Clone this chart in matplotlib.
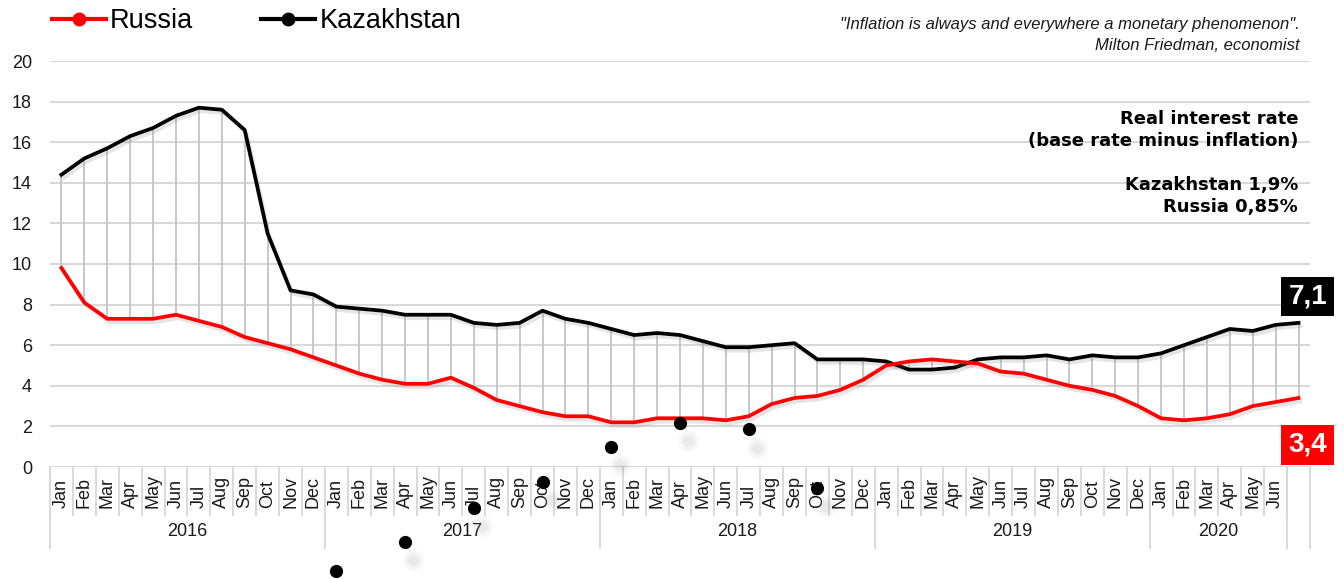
import matplotlib
matplotlib.use("Agg")
import matplotlib.pyplot as plt
import matplotlib.transforms as mtransforms
import matplotlib.patheffects as pe
from matplotlib.lines import Line2D

plt.rcParams['font.family'] = ['Liberation Sans', 'DejaVu Sans']

# --- data ---
MONTHS = ['Jan', 'Feb', 'Mar', 'Apr', 'May', 'Jun', 'Jul', 'Aug', 'Sep', 'Oct', 'Nov', 'Dec']
month_labels = MONTHS * 4 + MONTHS[:6] + ['']
years = ['2016', '2017', '2018', '2019', '2020', '']
year_spans = [12, 12, 12, 12, 6, 1]

russia = [9.8, 8.1, 7.3, 7.3, 7.3, 7.5, 7.2, 6.9, 6.4, 6.1, 5.8, 5.4,
          5.0, 4.6, 4.3, 4.1, 4.1, 4.4, 3.9, 3.3, 3.0, 2.7, 2.5, 2.5,
          2.2, 2.2, 2.4, 2.4, 2.4, 2.3, 2.5, 3.1, 3.4, 3.5, 3.8, 4.3,
          5.0, 5.2, 5.3, 5.2, 5.1, 4.7, 4.6, 4.3, 4.0, 3.8, 3.5, 3.0,
          2.4, 2.3, 2.4, 2.6, 3.0, 3.2, 3.4]
kazakhstan = [14.4, 15.2, 15.7, 16.3, 16.7, 17.3, 17.7, 17.6, 16.6, 11.5, 8.7, 8.5,
              7.9, 7.8, 7.7, 7.5, 7.5, 7.5, 7.1, 7.0, 7.1, 7.7, 7.3, 7.1,
              6.8, 6.5, 6.6, 6.5, 6.2, 5.9, 5.9, 6.0, 6.1, 5.3, 5.3, 5.3,
              5.2, 4.8, 4.8, 4.9, 5.3, 5.4, 5.4, 5.5, 5.3, 5.5, 5.4, 5.4,
              5.6, 6.0, 6.4, 6.8, 6.7, 7.0, 7.1]

# stray quarterly points drawn below the axis in the original
dot_idx = [12, 15, 18, 21, 24, 27, 30, 33]
dot_vals = [-5.1, -3.7, -2.0, -0.75, 1.0, 2.15, 1.85, -1.05]

RED = '#ff0000'
BLACK = '#000000'
GRID = '#d9d9d9'

W, H = 1344, 579
fig = plt.figure(figsize=(W / 100, H / 100), dpi=100)
left, right, top, bottom = 50, 1310, 61, 467
ax = fig.add_axes([left / W, 1 - bottom / H, (right - left) / W, (bottom - top) / H])

x = list(range(len(russia)))
ax.set_xlim(-0.5, len(x) - 0.5)
ax.set_ylim(0, 20)

# high-low drop lines
ax.vlines(x, russia, kazakhstan, color='#c4c4c4', lw=1.3, zorder=2)

shadow = [pe.SimpleLineShadow(offset=(1.5, -2.5), shadow_color='gray', alpha=0.2), pe.Normal()]
ax.plot(x, kazakhstan, color=BLACK, lw=2.7, zorder=3, solid_joinstyle='round', path_effects=shadow)
ax.plot(x, russia, color=RED, lw=2.7, zorder=3, solid_joinstyle='round', path_effects=shadow)

# stray dots with soft blurred shadow
for ms, a in [(16, 0.04), (12, 0.06), (8, 0.08)]:
    sh_tr = mtransforms.offset_copy(ax.transData, fig=fig, x=6, y=-13, units='points')
    ax.plot(dot_idx, dot_vals, 'o', color='#888888', ms=ms, alpha=a, mec='none',
            transform=sh_tr, clip_on=False, zorder=4)
ax.plot(dot_idx, dot_vals, 'o', color=BLACK, ms=9.5, mec='none', clip_on=False, zorder=5)

# y axis
ax.set_yticks(range(0, 21, 2))
ax.tick_params(axis='y', length=0, pad=13, labelsize=13, labelcolor='#1a1a1a')
ax.set_xticks([])
ax.grid(axis='y', color=GRID, lw=1.5)
ax.set_axisbelow(True)
for s in ax.spines.values():
    s.set_visible(False)

# category axis with months and years
trans = mtransforms.blended_transform_factory(ax.transData, ax.transAxes)
ph = bottom - top
month_row = -(515 - bottom) / ph
year_row = -(548 - bottom) / ph
for i, lab in enumerate(month_labels):
    ax.plot([i - 0.5, i - 0.5], [0, month_row], color=GRID, lw=1.4, transform=trans, clip_on=False)
    ax.text(i, -(508 - bottom) / ph, lab, rotation=90, ha='center', va='bottom',
            fontsize=13, color='#1a1a1a', transform=trans)
start = 0
for yr, span in zip(years, year_spans):
    ax.plot([start - 0.5, start - 0.5], [0, year_row], color=GRID, lw=1.4, transform=trans, clip_on=False)
    ax.text(start + span / 2 - 0.5, -(531 - bottom) / ph, yr, ha='center', va='center',
            fontsize=13, color='#1a1a1a', transform=trans)
    start += span
ax.plot([start - 0.5, start - 0.5], [0, year_row], color=GRID, lw=1.4, transform=trans, clip_on=False)

# end value labels
ax.text(len(x) - 1 + 0.4, kazakhstan[-1] + 1.3, '7,1', ha='center', va='center', fontsize=20,
        fontweight='bold', color='white', clip_on=False,
        bbox=dict(boxstyle='square,pad=0.25', fc=BLACK, ec='none'))
ax.text(len(x) - 1 + 0.4, russia[-1] - 2.3, '3,4', ha='center', va='center', fontsize=20,
        fontweight='bold', color='white', clip_on=False,
        bbox=dict(boxstyle='square,pad=0.25', fc=RED, ec='none'))

# legend
handles = [Line2D([], [], color=RED, lw=3, marker='o', ms=9),
           Line2D([], [], color=BLACK, lw=3, marker='o', ms=9)]
fig.legend(handles, ['Russia', 'Kazakhstan'], loc='upper left', bbox_to_anchor=(52 / W, 1 - 8 / H),
           frameon=False, fontsize=19.5, ncol=2, handlelength=2.0, handletextpad=0.15,
           columnspacing=2.5, borderpad=0, borderaxespad=0)

# quote
fig.text(1300 / W, 1 - 24 / H, '"Inflation is always and everywhere a monetary phenomenon".',
         ha='right', va='center', style='italic', fontsize=12, color='#1a1a1a')
fig.text(1300 / W, 1 - 46 / H, 'Milton Friedman, economist',
         ha='right', va='center', style='italic', fontsize=12, color='#1a1a1a')

# note (heavy face in the original)
for txt, ypx in [('Real interest rate', 119), ('(base rate minus inflation)', 141),
                 ('Kazakhstan 1,9%', 185), ('Russia 0,85%', 207)]:
    fig.text(1298 / W, 1 - ypx / H, txt, ha='right', va='center', fontsize=13,
             fontweight='heavy', family='DejaVu Sans', color=BLACK)

fig.savefig('out.png', dpi=100)
